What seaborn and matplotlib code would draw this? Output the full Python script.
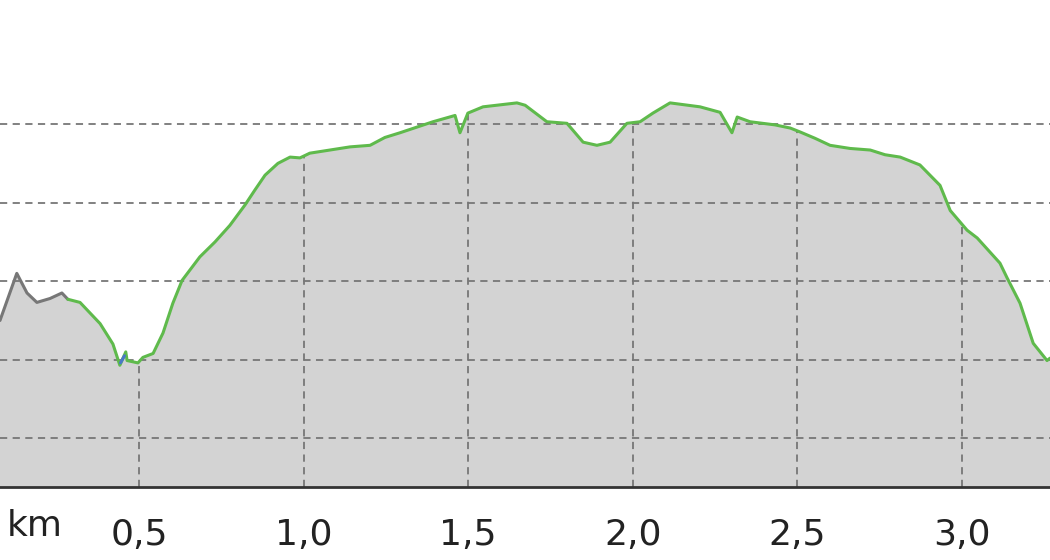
import numpy as np
import matplotlib
matplotlib.use('Agg')
import matplotlib.pyplot as plt
import seaborn as sns

sns.set_style('white')
plt.rcParams['font.family'] = ['DejaVu Sans']

# ----------------------------------------
# Elevation profile (distance in km, elevation in m)
# ----------------------------------------
# first part of the track (gray)
gray_km = [0.078, 0.129, 0.160, 0.190, 0.230, 0.266, 0.284]
gray_elev = [155.0, 161.0, 158.5, 157.3, 157.8, 158.5, 157.7]

# main part of the track (green)
green_km = [0.284, 0.321, 0.382, 0.421, 0.442, 0.460, 0.464, 0.497, 0.512, 0.543,
            0.573, 0.603, 0.631, 0.685, 0.731, 0.776, 0.822, 0.852, 0.883, 0.922,
            0.959, 0.989, 1.019, 1.080, 1.141, 1.202, 1.247, 1.293, 1.393, 1.460,
            1.475, 1.499, 1.545, 1.648, 1.673, 1.739, 1.800, 1.849, 1.891, 1.931,
            1.982, 2.022, 2.061, 2.113, 2.204, 2.265, 2.301, 2.317, 2.356, 2.432,
            2.478, 2.508, 2.553, 2.599, 2.660, 2.721, 2.766, 2.812, 2.872, 2.933,
            2.964, 3.015, 3.046, 3.115, 3.137, 3.176, 3.216, 3.258, 3.267]
green_elev = [157.7, 157.3, 154.6, 152.0, 149.3, 151.0, 149.9, 149.6, 150.3, 150.8,
              153.4, 157.2, 160.1, 163.1, 165.0, 167.1, 169.7, 171.6, 173.5, 175.0,
              175.8, 175.7, 176.3, 176.7, 177.1, 177.3, 178.3, 178.9, 180.3, 181.1,
              178.9, 181.4, 182.2, 182.7, 182.4, 180.3, 180.1, 177.7, 177.3, 177.7,
              180.1, 180.3, 181.4, 182.7, 182.2, 181.5, 178.9, 180.9, 180.3, 179.9,
              179.5, 179.0, 178.2, 177.3, 176.9, 176.7, 176.1, 175.8, 174.8, 172.2,
              169.0, 166.5, 165.5, 162.3, 160.4, 157.2, 152.1, 149.9, 150.2]

# short blue bit near the first dip
blue_km = [0.444, 0.456]
blue_elev = [149.6, 150.5]

x_ticks = [0.5, 1.0, 1.5, 2.0, 2.5, 3.0]
x_tick_labels = ['0,5', '1,0', '1,5', '2,0', '2,5', '3,0']
y_grid = [140, 150, 160, 170, 180]

all_km = np.array(gray_km + green_km[1:])
all_elev = np.array(gray_elev + green_elev[1:])

fig = plt.figure(figsize=(10.5, 5.6), dpi=100)
ax = fig.add_axes([0, 73 / 560, 1, 487 / 560])

ymin = 133.8
fill = ax.fill_between(all_km, all_elev, ymin, color='#d3d3d3', lw=0, zorder=1)

sns.lineplot(x=gray_km, y=gray_elev, ax=ax, color='#777777', lw=2.2, zorder=4, sort=False)
sns.lineplot(x=green_km, y=green_elev, ax=ax, color='#5fba4c', lw=2.2, zorder=4, sort=False)
sns.lineplot(x=blue_km, y=blue_elev, ax=ax, color='#4a78c8', lw=2.2, zorder=5, sort=False)

ax.set_xlim(0.078, 3.267)
ax.set_ylim(ymin, 195.8)

# horizontal grid across everything, vertical grid only under the profile
for y in y_grid:
    ax.axhline(y, color='#777777', lw=1.3, ls=(0, (4, 3)), zorder=2)
for x in x_ticks:
    vl = ax.axvline(x, color='#777777', lw=1.3, ls=(0, (4, 3)), zorder=2)
    vl.set_clip_path(fill.get_paths()[0], fill.get_transform())

ax.set_xticks(x_ticks)
ax.set_xticklabels(x_tick_labels)
ax.set_yticks([])
ax.tick_params(axis='x', length=0, pad=22, labelsize=26, labelcolor='#222222')
ax.set_xlabel('')
ax.set_ylabel('')

for side in ['top', 'left', 'right']:
    ax.spines[side].set_visible(False)
ax.spines['bottom'].set_color('#333333')
ax.spines['bottom'].set_linewidth(2)
ax.spines['bottom'].set_zorder(5)

ax.text(35 / 1050, -39 / 487, 'km', transform=ax.transAxes, ha='center', va='center',
        fontsize=26, color='#222222')

fig.savefig('out.png', dpi=100)
